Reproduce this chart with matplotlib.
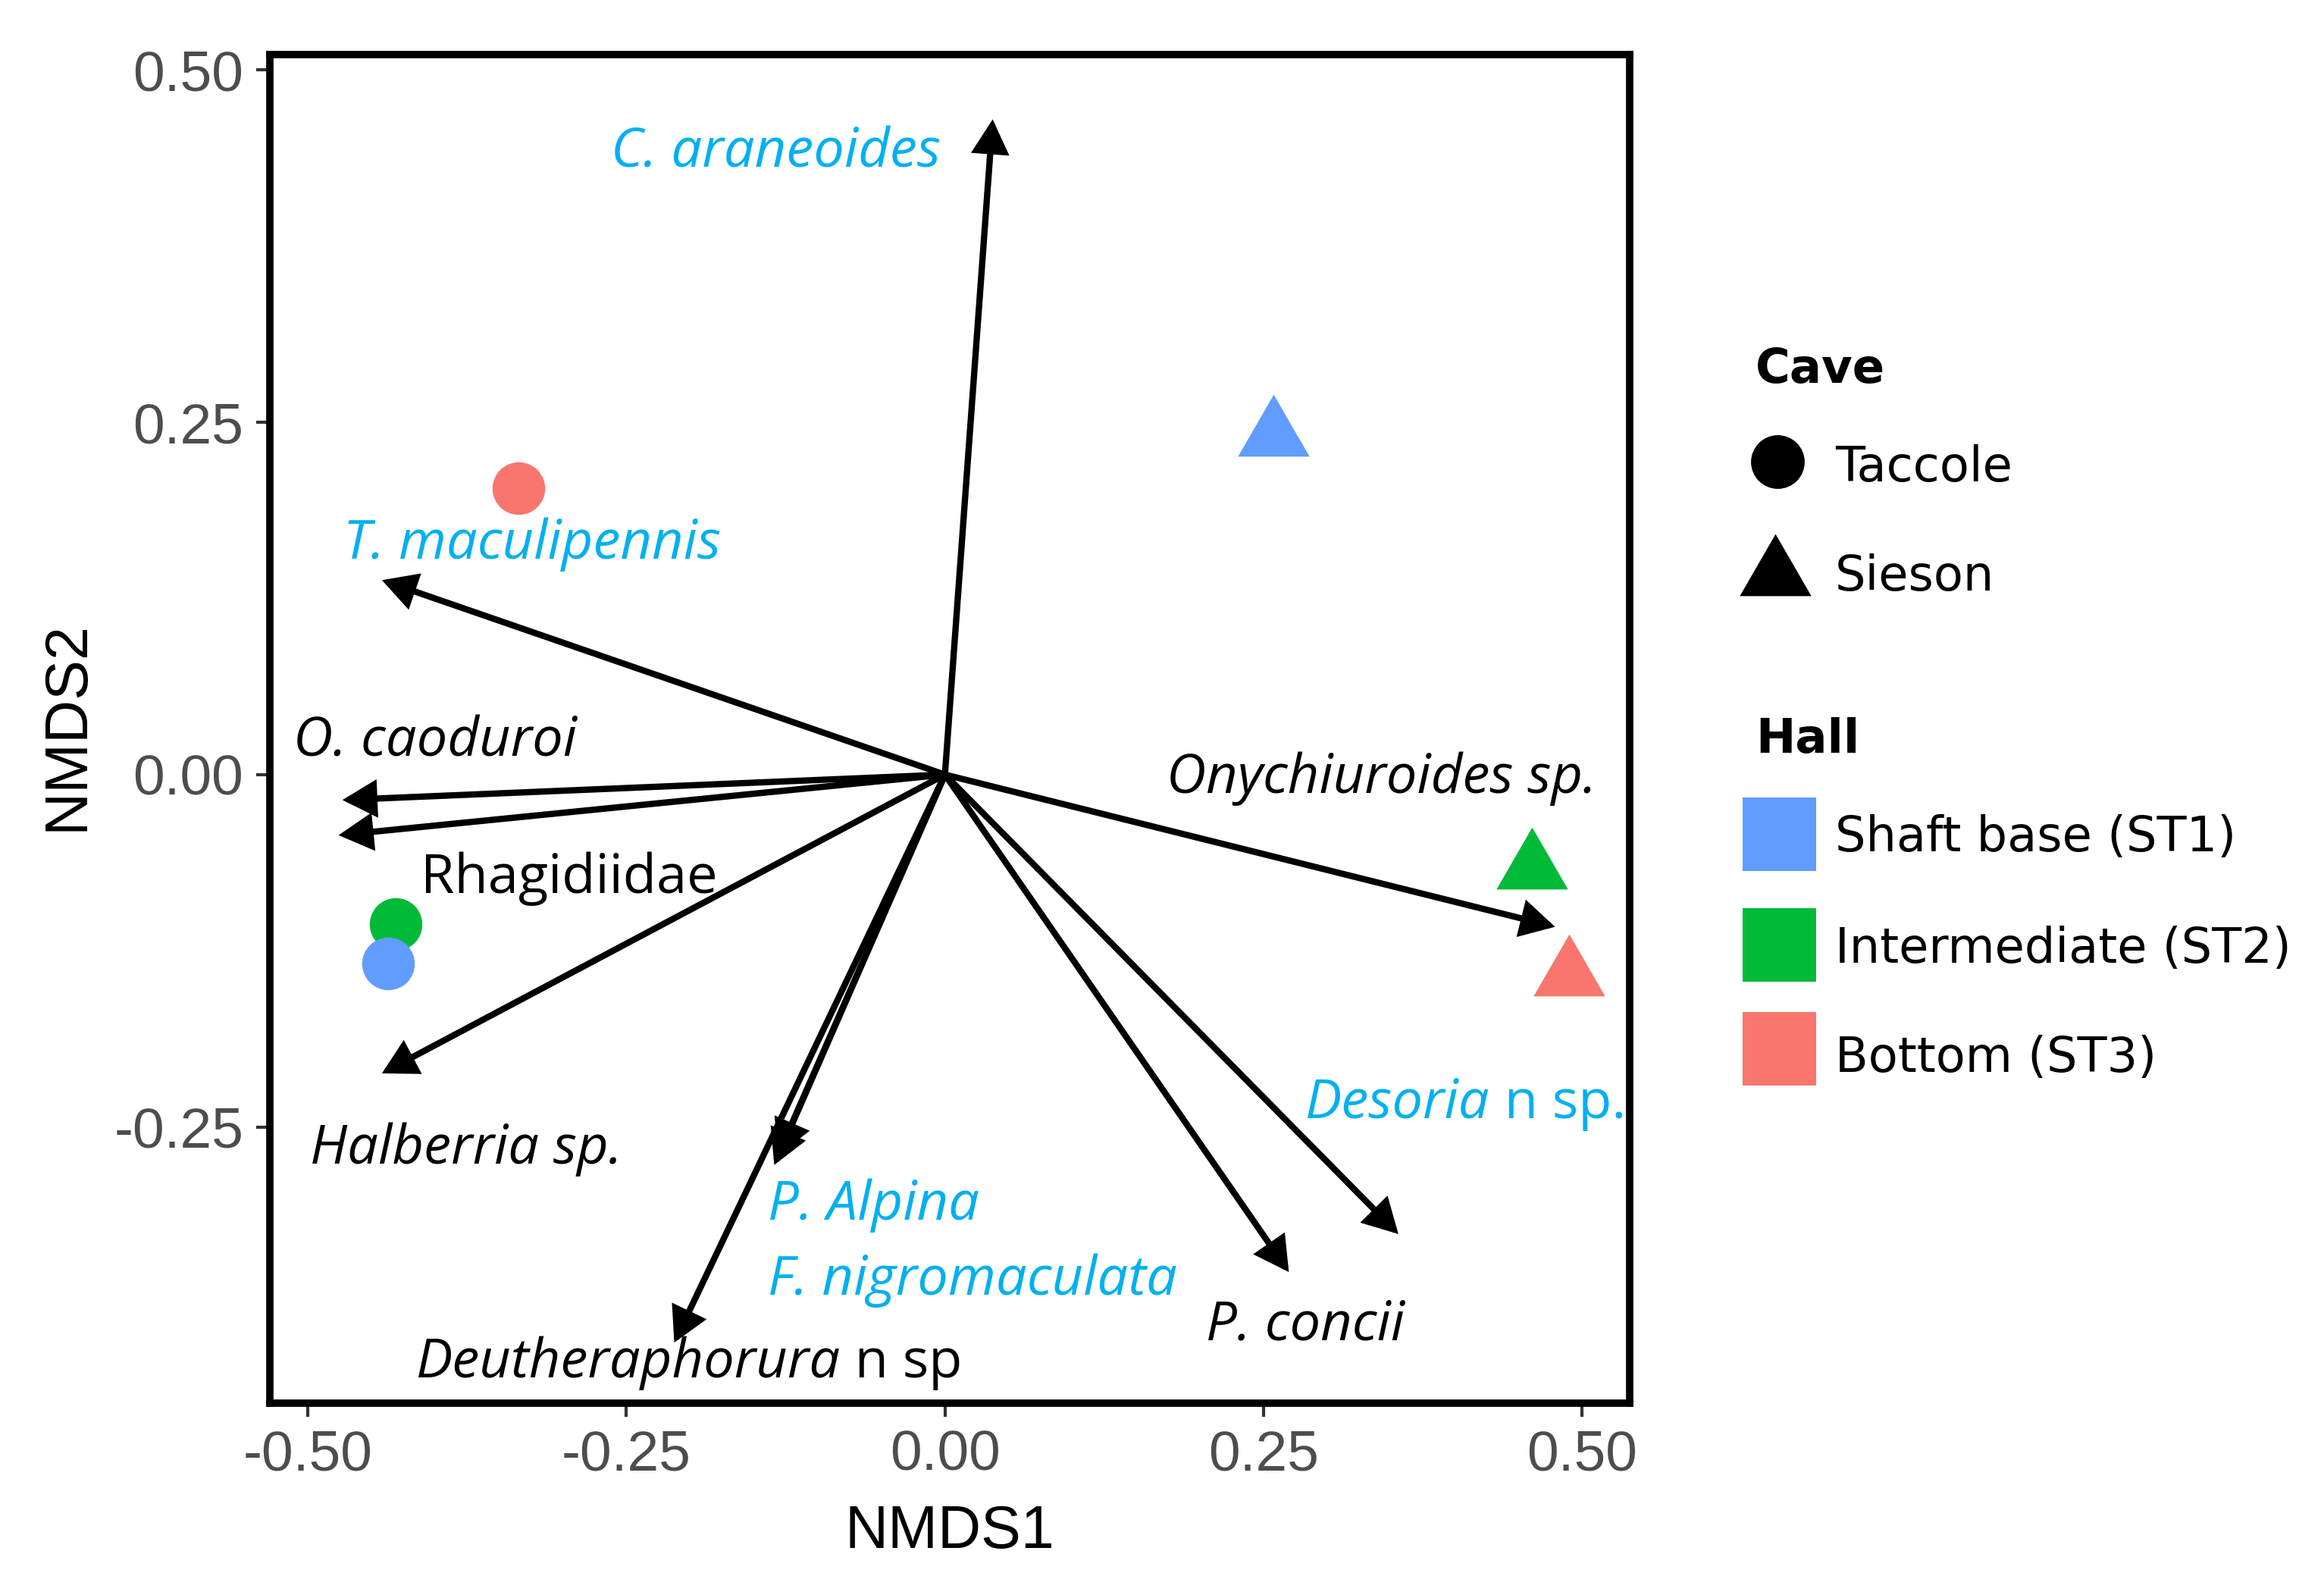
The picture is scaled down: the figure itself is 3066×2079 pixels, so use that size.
import numpy as np
import matplotlib
matplotlib.use("Agg")
import matplotlib.pyplot as plt
from matplotlib.patches import Rectangle

# ---- site scores (NMDS) ----
site_x = [-0.335, -0.431, -0.437, 0.258, 0.461, 0.490]
site_y = [0.203, -0.106, -0.134, 0.248, -0.059, -0.135]
site_cave = ["Taccole", "Taccole", "Taccole", "Sieson", "Sieson", "Sieson"]
site_hall = ["ST3", "ST2", "ST1", "ST1", "ST2", "ST3"]

hall_names = ["ST1", "ST2", "ST3"]
hall_labels = ["Shaft base (ST1)", "Intermediate (ST2)", "Bottom (ST3)"]
cave_names = ["Taccole", "Sieson"]

# ---- species vectors ----
species = ["C. araneoides", "T. maculipennis", "O. caoduroi", "Rhagidiidae",
           "Halberria sp.", "P. Alpina", "F. nigromaculata",
           "Deutheraphorura", "P. concii", "Desoria", "Onychiuroides sp."]
vec_x = [0.0375, -0.442, -0.473, -0.476, -0.442, -0.134, -0.131,
         -0.2125, 0.270, 0.356, 0.479]
vec_y = [0.465, 0.138, -0.018, -0.043, -0.212, -0.277, -0.270,
         -0.403, -0.353, -0.326, -0.108]

# label placement (data coords, baseline) and looks
lab_x = [-0.133, -0.324, -0.400, -0.295, -0.376, -0.139, -0.139,
         -0.415, 0.283, 0.283, 0.343]
lab_y = [0.431, 0.153, 0.013, -0.084, -0.276, -0.316, -0.369,
         -0.428, -0.401, -0.2436, -0.013]
lab_ha = ["center", "center", "center", "center", "center", "left", "left",
          "left", "center", "left", "center"]
lab_blue = [True, True, False, False, False, True, True, False, False, True, False]
lab_italic = [True, True, True, False, True, True, True, True, True, True, True]
lab_suffix = {"Deutheraphorura": " n sp", "Desoria": " n sp."}

hall_colors = {"ST1": "#619CFF", "ST2": "#00BA38", "ST3": "#F8766D"}
label_blue = "#00B0F0"
tri = [(-1, -0.866), (1, -0.866), (0, 0.866)]
cave_markers = {"Taccole": "o", "Sieson": tri}
cave_ms = {"Taccole": 50, "Sieson": 68}

fig = plt.figure(figsize=(30.66, 20.79), dpi=100)
ax = fig.add_axes([0.1161, 0.1097, 0.7012 - 0.1161, 0.9654 - 0.1097])

# arrows
for vx, vy in zip(vec_x, vec_y):
    ax.annotate("", xy=(vx, vy), xytext=(0, 0),
                arrowprops=dict(arrowstyle="-|>,head_length=0.4,head_width=0.22",
                                mutation_scale=60, lw=6.0, color="black",
                                shrinkA=0, shrinkB=0, joinstyle="miter"),
                zorder=2)

# site points
for x, y, c, h in zip(site_x, site_y, site_cave, site_hall):
    ax.plot([x], [y], marker=cave_markers[c], ms=cave_ms[c], color=hall_colors[h],
            mec="none", ls="none", zorder=3)

# species labels
for i, name in enumerate(species):
    col = label_blue if lab_blue[i] else "black"
    st = "italic" if lab_italic[i] else "normal"
    t = ax.text(lab_x[i], lab_y[i], name, ha=lab_ha[i], va="baseline",
                fontsize=52, family="Open Sans", style=st, color=col, zorder=4)
    if name in lab_suffix:
        ax.annotate(lab_suffix[name], xy=(1, 0), xycoords=t, ha="left", va="bottom",
                    fontsize=52, family="Open Sans", color=col, zorder=4)

ax.set_xlim(-0.530, 0.5375)
ax.set_ylim(-0.446, 0.511)
ax.set_xticks([-0.5, -0.25, 0, 0.25, 0.5])
ax.set_yticks([-0.25, 0, 0.25, 0.5])
ax.set_xticklabels(["-0.50", "-0.25", "0.00", "0.25", "0.50"])
ax.set_yticklabels(["-0.25", "0.00", "0.25", "0.50"])
ax.tick_params(axis="both", length=13, width=3, color="#333333", pad=12,
               labelsize=54, labelcolor="#4D4D4D")
for lab in ax.get_xticklabels() + ax.get_yticklabels():
    lab.set_family("Liberation Sans")
for sp in ax.spines.values():
    sp.set_linewidth(7)
    sp.set_color("black")

ax.set_xlabel("NMDS1", fontsize=57, family="Liberation Sans")
ax.set_ylabel("NMDS2", fontsize=57, family="Liberation Sans")
ax.xaxis.set_label_coords(0.5, -0.096)
ax.xaxis.label.set_va("center")
ax.yaxis.set_label_coords(-0.149, 0.502)
ax.yaxis.label.set_va("center")

# ---- legend drawn in pixel space ----
lg = fig.add_axes([0, 0, 1, 1])
lg.set_xlim(0, 3066)
lg.set_ylim(2079, 0)
lg.axis("off")
lg.patch.set_alpha(0)
leg_font = "DejaVu Sans"
lg.text(2316, 505, "Cave", fontsize=45, weight="bold", family=leg_font, va="baseline")
lg.plot([2345], [609], marker="o", ms=51, color="black", mec="none")
lg.text(2421, 635, cave_names[0], fontsize=46, family=leg_font, va="baseline")
lg.plot([2342], [745], marker=tri, ms=68, color="black", mec="none")
lg.text(2421, 779, cave_names[1], fontsize=46, family=leg_font, va="baseline")
lg.text(2316, 993, "Hall", fontsize=45, weight="bold", family=leg_font, va="baseline")
for h, lbl, top, base in zip(hall_names, hall_labels, [1052, 1198, 1335], [1123, 1270, 1414]):
    lg.add_patch(Rectangle((2299, top), 97, 97, color=hall_colors[h], lw=0))
    lg.text(2421, base, lbl, fontsize=46, family=leg_font, va="baseline")

fig.savefig("out.png", dpi=100, facecolor="white")
